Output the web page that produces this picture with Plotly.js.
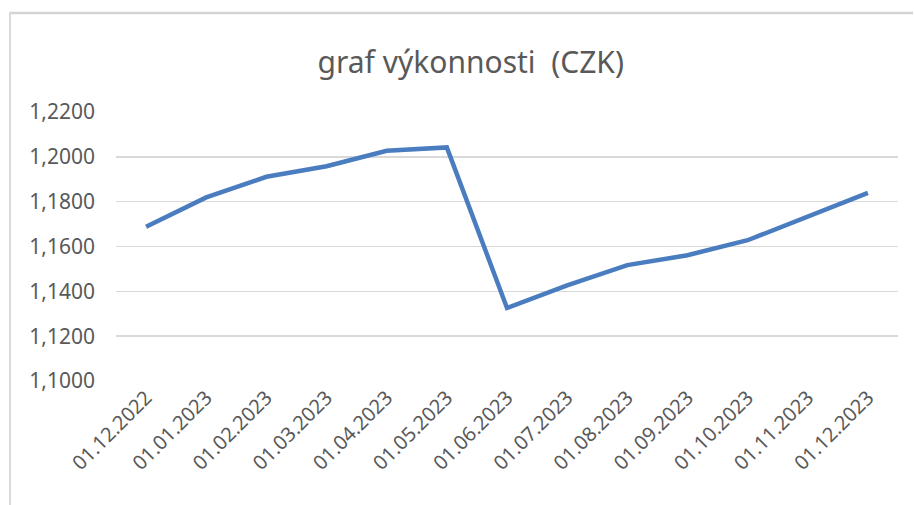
<!DOCTYPE html>
<html><head><meta charset="utf-8">
<script src="https://cdn.plot.ly/plotly-3.0.1.min.js"></script>
<style>
html,body{margin:0;padding:0;background:#fff;overflow:hidden;}
#chart{width:914px;height:505px;}
</style></head>
<body>
<div id="chart"></div>
<script>
const dates = ["01.12.2022","01.01.2023","01.02.2023","01.03.2023","01.04.2023","01.05.2023","01.06.2023","01.07.2023","01.08.2023","01.09.2023","01.10.2023","01.11.2023","01.12.2023"];
const values = [1.1688,1.1819,1.1911,1.1958,1.2027,1.2042,1.1326,1.1427,1.1517,1.1561,1.1628,1.1732,1.1839];
const yTicks = [1.10,1.12,1.14,1.16,1.18,1.20,1.22];
const titleText = "graf výkonnosti  (CZK)";

const W = 914, H = 505, L = 116, R = 16, T = 112, B = 124;
const pw = W - L - R, ph = H - T - B;
const px = v => (v - L) / pw;
const py = v => 1 - (v - T) / ph;

Plotly.newPlot("chart",[{
  x: dates, y: values, type: "scatter", mode: "lines",
  line: {color: "#4a7dbf", width: 4.5}
}],{
  width: W, height: H,
  margin: {l:L, r:R, t:T, b:B},
  paper_bgcolor: "#fff", plot_bgcolor: "#fff",
  separators: ", ",
  showlegend: false,
  title: {text: titleText, x: 0.515, xanchor: "center", y: 0.877, yanchor: "middle",
          font: {family: "Noto Sans, Open Sans, sans-serif", size: 30, color: "#595959"}},
  xaxis: {type: "category", tickangle: -45, showgrid: false, showline: false, zeroline: false,
          ticks: "", tickfont: {family: "Noto Sans, Open Sans, sans-serif", size: 20, color: "#595959"},
          range: [-0.5, dates.length - 0.5]},
  yaxis: {range: [1.10, 1.22], tickvals: yTicks, tickformat: ".4f", showgrid: true,
          gridcolor: "#d9d9d9", gridwidth: 1.5, zeroline: false, showline: false, ticks: "",
          ticklabelstandoff: 20,
          tickfont: {family: "Noto Sans, Open Sans, sans-serif", size: 21, color: "#595959"}},
  shapes: [
    {type: "line", xref: "paper", yref: "paper", x0: px(9), x1: px(913), y0: py(13), y1: py(13),
     line: {color: "#d4d4d4", width: 2.5}},
    {type: "line", xref: "paper", yref: "paper", x0: px(10), x1: px(10), y0: py(12), y1: py(520),
     line: {color: "#d9d9d9", width: 2}}
  ]
},{staticPlot: true});
</script>
</body></html>
